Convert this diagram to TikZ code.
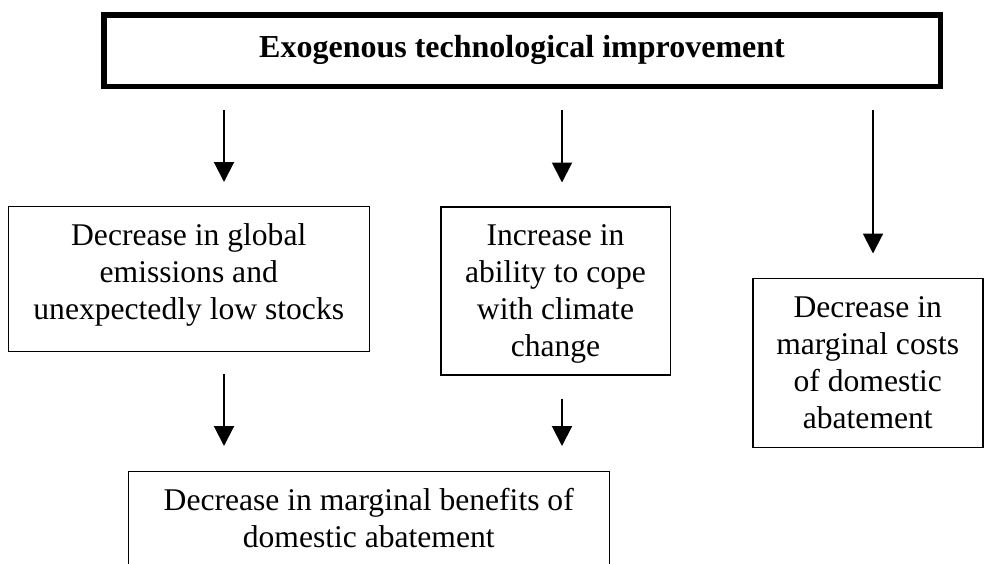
\documentclass[tikz,border=0pt]{standalone}
\usepackage{fontspec}
\setmainfont{Liberation Serif}
\usetikzlibrary{arrows.meta}

\begin{document}
\begin{tikzpicture}[x=1pt, y=-1pt,
    box/.style={draw, line width=1.5pt, inner sep=0pt, anchor=north west, align=center,
        font=\fontsize{31.6}{37}\selectfont},
    arr/.style={-{Triangle[width=20pt, length=20pt]}, line width=2pt}]
    \useasboundingbox (0,0) rectangle (984,563);
    \clip (0,0) rectangle (984,563);

    \node[draw, line width=5.5pt, inner sep=0pt, anchor=north west, minimum width=836.5pt,
        text height=43pt, text depth=28.5pt, font=\fontsize{32}{37}\selectfont\bfseries]
        (top) at (101,12) {Exogenous technological improvement};
    \node[box, minimum width=361pt, text height=113pt, text depth=32pt] (emis) at (7.5,205.5)
        {Decrease in global\\emissions and\\unexpectedly low stocks};
    \node[box, minimum width=229.5pt, text height=150pt, text depth=18pt] (cope) at (440,206)
        {Increase in\\ability to cope\\with climate\\change};
    \node[box, minimum width=230pt, text height=150pt, text depth=19pt] (cost) at (752,277.5)
        {Decrease in\\marginal costs\\of domestic\\abatement};
    \node[box, minimum width=481pt, text height=76pt, text depth=80pt] (bene) at (127.5,470.5)
        {Decrease in marginal benefits of\\domestic abatement};

    % arrow columns
    \coordinate (c1) at (224,0);
    \coordinate (c2) at (562,0);
    \coordinate (c3) at (873,0);

    \draw[arr, shorten <=21pt, shorten >=23.5pt] (top.south -| c1) -- (emis.north -| c1);
    \draw[arr, shorten <=21pt, shorten >=23.5pt] (top.south -| c2) -- (cope.north -| c2);
    \draw[arr, shorten <=21pt, shorten >=24pt] (top.south -| c3) -- (cost.north -| c3);
    \draw[arr, shorten <=22pt, shorten >=24.5pt] (emis.south -| c1) -- (bene.north -| c1);
    \draw[arr, shorten <=23pt, shorten >=24.5pt] (cope.south -| c2) -- (bene.north -| c2);
\end{tikzpicture}
\end{document}
